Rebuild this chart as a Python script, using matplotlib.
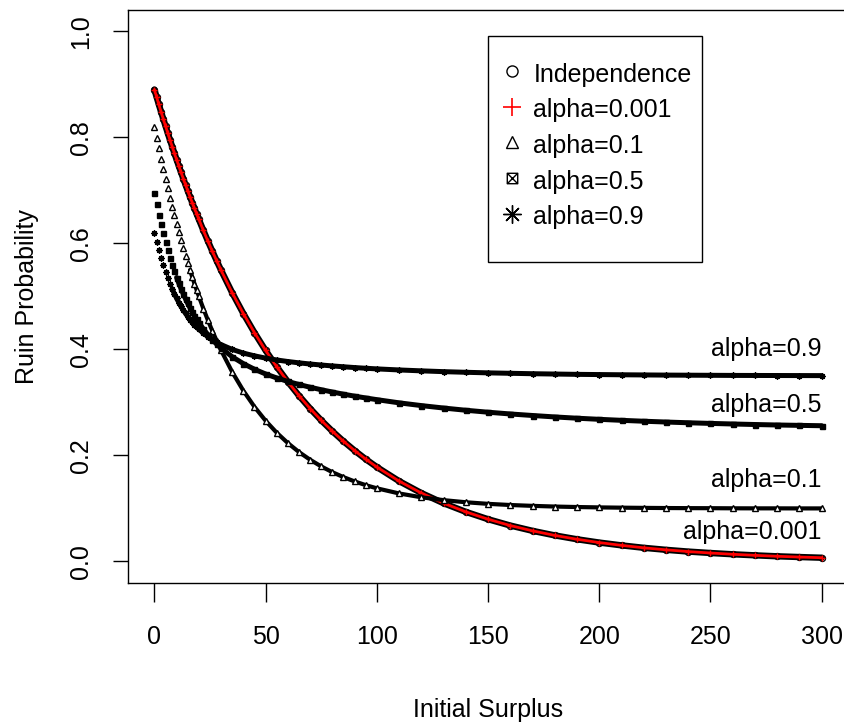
import matplotlib
matplotlib.use('Agg')
import matplotlib.pyplot as plt
from matplotlib.path import Path

plt.rcParams['font.family'] = ['Liberation Sans', 'DejaVu Sans']

# ---------------- data ----------------
u = [0, 1, 2, 3, 4, 5, 6, 7, 8, 9, 10, 11, 12, 13, 14, 15, 16, 17, 18, 19, 20,
     22, 24, 26, 28, 30, 35, 40, 45, 50, 55, 60, 65, 70, 75, 80, 85, 90, 95, 100,
     110, 120, 130, 140, 150, 160, 170, 180, 190, 200, 210, 220, 230, 240, 250,
     260, 270, 280, 290, 300]

independence = [0.8900, 0.8758, 0.8618, 0.8480, 0.8345, 0.8212, 0.8080, 0.7951, 0.7824, 0.7699,
                0.7576, 0.7456, 0.7336, 0.7219, 0.7104, 0.6990, 0.6879, 0.6769, 0.6661, 0.6554,
                0.6450, 0.6245, 0.6047, 0.5856, 0.5670, 0.5491, 0.5066, 0.4675, 0.4314, 0.3980,
                0.3673, 0.3389, 0.3127, 0.2885, 0.2662, 0.2457, 0.2267, 0.2092, 0.1930, 0.1781,
                0.1516, 0.1291, 0.1099, 0.0936, 0.0797, 0.0678, 0.0578, 0.0492, 0.0419, 0.0357,
                0.0304, 0.0258, 0.0220, 0.0187, 0.0160, 0.0136, 0.0116, 0.0098, 0.0084, 0.0071]

alpha_0001 = [0.8900, 0.8758, 0.8618, 0.8480, 0.8345, 0.8212, 0.8080, 0.7951, 0.7824, 0.7699,
              0.7576, 0.7456, 0.7336, 0.7219, 0.7104, 0.6990, 0.6879, 0.6769, 0.6661, 0.6554,
              0.6450, 0.6245, 0.6047, 0.5856, 0.5670, 0.5491, 0.5066, 0.4675, 0.4314, 0.3980,
              0.3673, 0.3389, 0.3127, 0.2885, 0.2662, 0.2457, 0.2267, 0.2092, 0.1930, 0.1781,
              0.1516, 0.1291, 0.1099, 0.0936, 0.0797, 0.0678, 0.0578, 0.0492, 0.0419, 0.0357,
              0.0304, 0.0258, 0.0220, 0.0187, 0.0160, 0.0136, 0.0116, 0.0098, 0.0084, 0.0071]

alpha_01 = [0.8200, 0.7991, 0.7789, 0.7592, 0.7401, 0.7215, 0.7035, 0.6860, 0.6690, 0.6525,
            0.6365, 0.6209, 0.6059, 0.5912, 0.5770, 0.5631, 0.5497, 0.5367, 0.5241, 0.5118,
            0.4999, 0.4770, 0.4555, 0.4352, 0.4161, 0.3980, 0.3572, 0.3220, 0.2916, 0.2654,
            0.2428, 0.2233, 0.2064, 0.1919, 0.1793, 0.1684, 0.1591, 0.1510, 0.1440, 0.1380,
            0.1283, 0.1211, 0.1157, 0.1117, 0.1087, 0.1065, 0.1049, 0.1036, 0.1027, 0.1020,
            0.1015, 0.1011, 0.1008, 0.1006, 0.1005, 0.1003, 0.1002, 0.1002, 0.1001, 0.1001]

alpha_05 = [0.6950, 0.6740, 0.6543, 0.6359, 0.6186, 0.6025, 0.5873, 0.5731, 0.5598, 0.5473,
            0.5355, 0.5245, 0.5142, 0.5043, 0.4952, 0.4866, 0.4785, 0.4709, 0.4636, 0.4568,
            0.4503, 0.4386, 0.4280, 0.4185, 0.4099, 0.4023, 0.3860, 0.3731, 0.3625, 0.3536,
            0.3461, 0.3395, 0.3338, 0.3286, 0.3239, 0.3196, 0.3155, 0.3118, 0.3084, 0.3052,
            0.2992, 0.2940, 0.2894, 0.2852, 0.2815, 0.2782, 0.2753, 0.2726, 0.2702, 0.2681,
            0.2662, 0.2645, 0.2630, 0.2616, 0.2604, 0.2593, 0.2583, 0.2574, 0.2567, 0.2560]

alpha_09 = [0.6200, 0.6034, 0.5870, 0.5724, 0.5588, 0.5462, 0.5346, 0.5239, 0.5140, 0.5047,
            0.4962, 0.4883, 0.4809, 0.4741, 0.4677, 0.4618, 0.4563, 0.4512, 0.4465, 0.4421,
            0.4380, 0.4305, 0.4240, 0.4183, 0.4133, 0.4089, 0.3999, 0.3930, 0.3878, 0.3835,
            0.3800, 0.3771, 0.3746, 0.3724, 0.3705, 0.3688, 0.3672, 0.3657, 0.3644, 0.3632,
            0.3612, 0.3595, 0.3580, 0.3568, 0.3557, 0.3549, 0.3541, 0.3535, 0.3529, 0.3525,
            0.3521, 0.3518, 0.3515, 0.3513, 0.3511, 0.3509, 0.3508, 0.3507, 0.3506, 0.3505]

legend_labels = ['Independence', 'alpha=0.001', 'alpha=0.1', 'alpha=0.5', 'alpha=0.9']
end_labels = ['alpha=0.9', 'alpha=0.5', 'alpha=0.1', 'alpha=0.001']
end_label_y = [0.388, 0.282, 0.141, 0.043]
xticks = [0, 50, 100, 150, 200, 250, 300]
yticks = [0.0, 0.2, 0.4, 0.6, 0.8, 1.0]

# ---------------- figure / axes geometry ----------------
W, H = 844, 728
fig = plt.figure(figsize=(W / 100, H / 100), dpi=100)
L, R, T, B = 127.7, 848.4, 10.0, 582.7
ax = fig.add_axes([L / W, 1 - B / H, (R - L) / W, (B - T) / H])
ax.set_xlim(-12, 312)
ax.set_ylim(-0.04, 1.04)

# box with X marker (R pch 7)
boxx = Path([(-1, -1), (1, -1), (1, 1), (-1, 1), (-1, -1), (-1, -1), (1, 1), (-1, 1), (1, -1)],
            [Path.MOVETO, Path.LINETO, Path.LINETO, Path.LINETO, Path.CLOSEPOLY,
             Path.MOVETO, Path.LINETO, Path.MOVETO, Path.LINETO])
asterisk = (8, 2, 0)


def from_index(seq, start_u):
    i = u.index(start_u)
    return u[i:], seq[i:]


# Independence: circles (black band)
ax.plot(u, independence, color='black', lw=4.6, solid_capstyle='round', zorder=2)
ax.plot(u, independence, ls='none', marker='o', ms=4.4, mfc='none', mec='black', mew=0.9, zorder=2)
# alpha = 0.001: red plus
ax.plot(u, alpha_0001, color='red', lw=2.0, solid_capstyle='round', zorder=3)
ax.plot(u, alpha_0001, ls='none', marker='+', ms=4.0, mec='red', mew=1.0, zorder=3)
# alpha = 0.1: triangles
xx, yy = from_index(alpha_01, 16)
ax.plot(xx, yy, color='black', lw=3.0, solid_capstyle='round', zorder=4)
ax.plot(u, alpha_01, ls='none', marker='^', ms=4.2, mfc='white', mec='black', mew=1.0, zorder=4)
# alpha = 0.5: squares
xx, yy = from_index(alpha_05, 10)
ax.plot(xx, yy, color='black', lw=3.6, solid_capstyle='round', zorder=5)
ax.plot(u, alpha_05, ls='none', marker='s', ms=3.6, mfc='black', mec='black', zorder=5)
# alpha = 0.9: asterisks
xx, yy = from_index(alpha_09, 8)
ax.plot(xx, yy, color='black', lw=3.6, solid_capstyle='round', zorder=6)
ax.plot(u, alpha_09, ls='none', marker=asterisk, ms=4.4, mec='black', mew=1.0, zorder=6)

# end labels
for lab, yv in zip(end_labels, end_label_y):
    ax.text(300, yv, lab, ha='right', va='baseline', fontsize=18, zorder=7)

# ---------------- axes styling ----------------
for s in ax.spines.values():
    s.set_linewidth(1.0)
ax.set_xticks(xticks)
ax.set_xticklabels([str(t) for t in xticks])
ax.set_yticks(yticks)
ax.set_yticklabels(['%.1f' % t for t in yticks])
ax.tick_params(axis='x', length=13.7, width=1.0, pad=17, labelsize=18, direction='out')
ax.tick_params(axis='y', length=11, width=1.0, pad=14, labelsize=18, direction='out')
for t in ax.get_yticklabels():
    t.set_rotation(90)
    t.set_va('center')

ax.set_xlabel('Initial Surplus', fontsize=18)
ax.xaxis.set_label_coords((488 - L) / (R - L), (B - 710) / (B - T))
ax.xaxis.label.set_va('center')
ax.set_ylabel('Ruin Probability', fontsize=18)
ax.yaxis.set_label_coords((27 - L) / (R - L), 0.5)
ax.yaxis.label.set_va('center')

# ---------------- legend (R style box) ----------------
def fx(px):
    return px / W


def fy(py):
    return 1 - py / H


leg_l, leg_t, leg_r, leg_b = 488.3, 36.0, 701.7, 262.0
fig.patches.append(plt.Rectangle((fx(leg_l), fy(leg_b)), fx(leg_r) - fx(leg_l), fy(leg_t) - fy(leg_b),
                                 transform=fig.transFigure, fill=True, facecolor='white',
                                 edgecolor='black', lw=1.0, zorder=10))
baselines = [81.7, 117.3, 152.9, 188.5, 224.1]
sym_y = [b - 10.5 for b in baselines]
styles = [dict(marker='o', ms=8, mfc='none', mec='black', mew=1.0),
          dict(marker='+', ms=13, mec='red', mew=1.2),
          dict(marker='^', ms=9, mfc='none', mec='black', mew=1.0),
          dict(marker=boxx, ms=7.5, mfc='none', mec='black', mew=1.0),
          dict(marker=asterisk, ms=13, mec='black', mew=1.0)]
for lab, b, sy, st in zip(legend_labels, baselines, sym_y, styles):
    fig.lines.append(plt.Line2D([fx(511.7)], [fy(sy)], transform=fig.transFigure, ls='none',
                                zorder=11, **st))
    fig.text(fx(533.5), fy(b), lab, ha='left', va='baseline', fontsize=18, zorder=11)

fig.savefig('out.png', dpi=100)
